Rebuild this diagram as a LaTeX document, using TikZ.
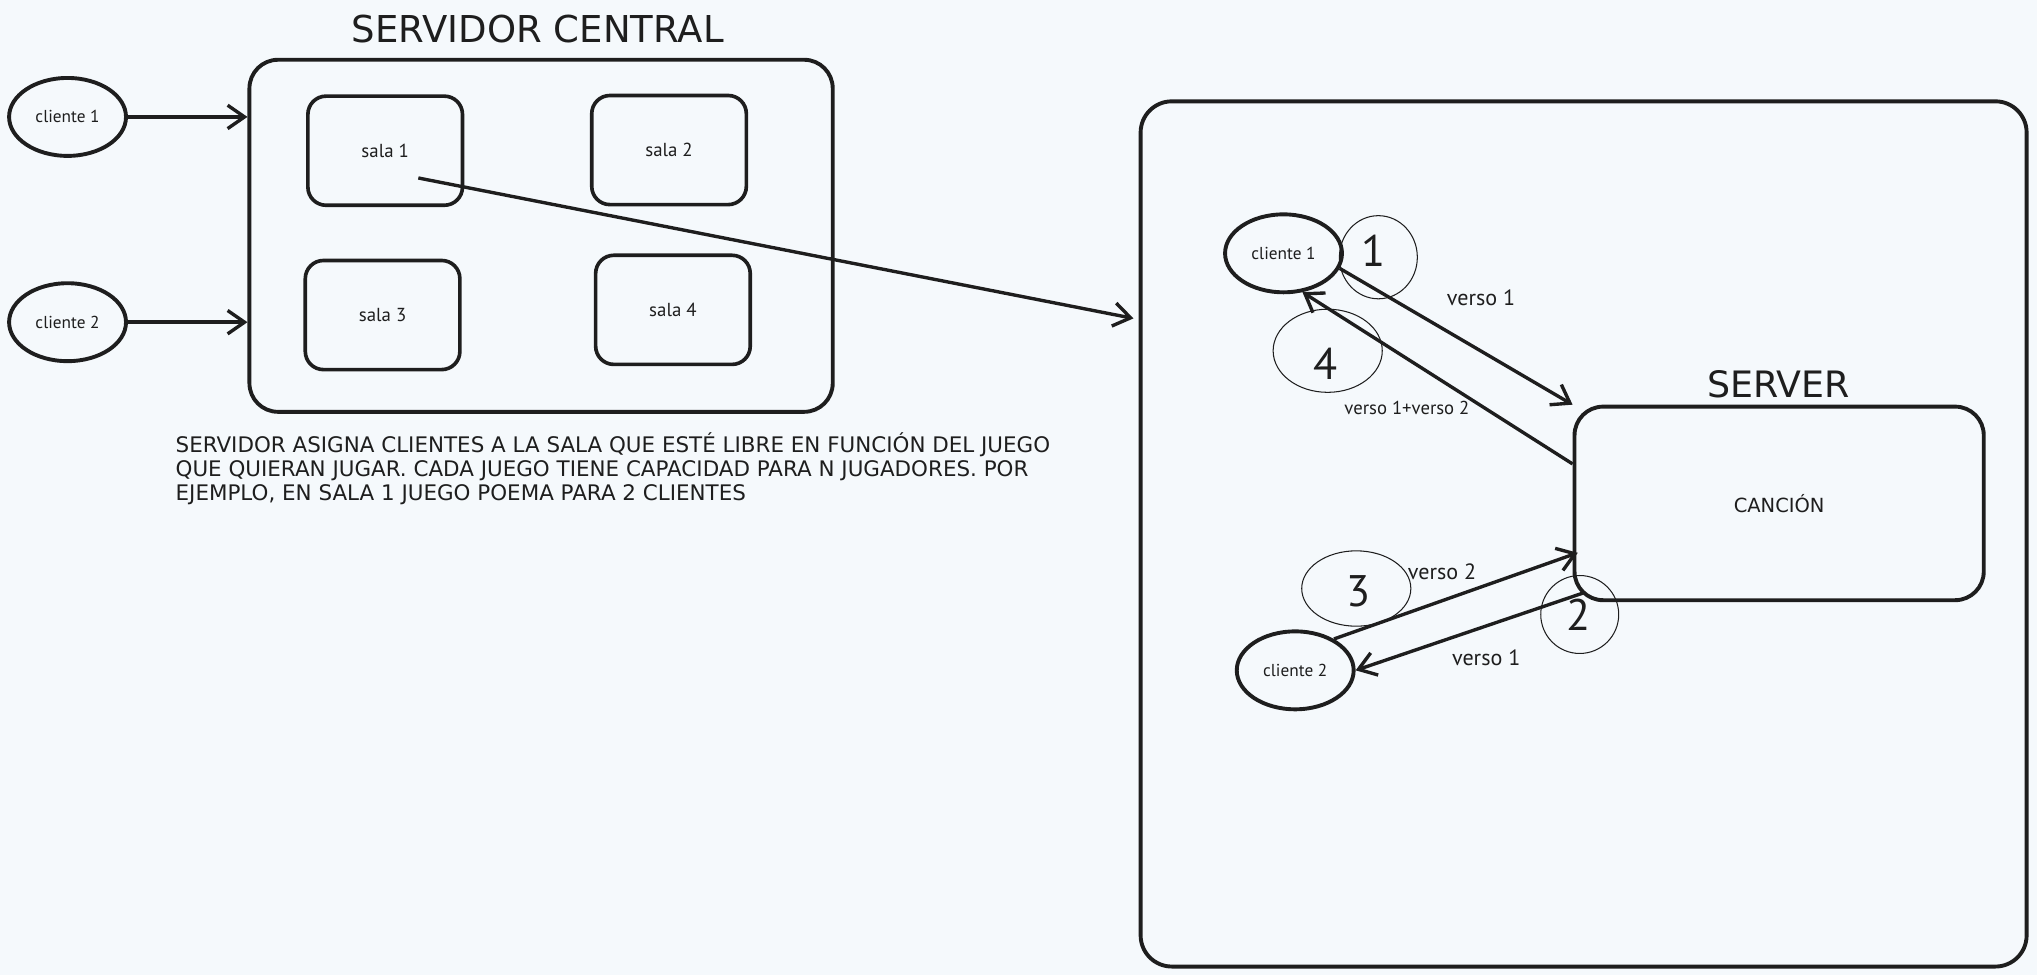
\documentclass[tikz,border=0pt]{standalone}
\usepackage{fontspec}
\setmainfont{PT Sans}
\newfontfamily\ancha{DejaVu Sans}
\usetikzlibrary{arrows.meta,shapes.geometric,calc}
\definecolor{fondo}{HTML}{F5F9FC}
\definecolor{tinta}{HTML}{1E1E1E}

\begin{document}
\begin{tikzpicture}
  [
    x=1pt, y=-1pt,
    color=tinta,
    caja/.style={draw, line width=3pt, rounded corners=22pt, inner sep=0pt},
    sala/.style={draw, line width=2.8pt, rounded corners=14pt,
      minimum width=119pt, minimum height=84pt,
      font=\fontsize{14.5}{16}\selectfont},
    cli/.style={draw, ellipse, line width=3pt, minimum width=90pt,
      minimum height=60pt, inner sep=0pt,
      font=\fontsize{13.3}{15}\selectfont},
    flecha/.style={line width=2.6pt, -{Straight Barb[length=13pt,width=18pt]}},
    num/.style={draw, ellipse, line width=0.8pt, inner sep=0pt},
    cifra/.style={font=\fontsize{34}{36}\selectfont},
    etq/.style={font=\fontsize{17}{19}\selectfont}
  ]
  \fill [fondo] (0,0) rectangle (1568,750.5);
  \useasboundingbox (0,0) rectangle (1568,750.5);

  % servidor central
  \node [font=\ancha\fontsize{28.5}{30}\selectfont] (T1) at (414,22) {SERVIDOR CENTRAL};
  \node [caja, minimum width=449pt, minimum height=271pt] (SC) at (416.5,181.5) {};
  \node [sala] (S1) at (296.5,116) {sala 1};
  \node [sala] (S2) at (515,115.5) {sala 2};
  \node [sala] (S3) at (294.5,242.5) {sala 3};
  \node [sala] (S4) at (518,238.5) {sala 4};
  \node [cli] (C1) at (52,90) {cliente 1};
  \node [cli] (C2) at (52,248) {cliente 2};
  \draw [flecha] (C1.east) -- (C1.east -| SC.west);
  \draw [flecha] (C2.east) -- (C2.east -| SC.west);
  \node [anchor=north west, align=left, inner sep=0pt,
    font=\ancha\fontsize{16.5}{18.5}\selectfont] (D1) at (135,333)
    {SERVIDOR ASIGNA CLIENTES A LA SALA QUE ESTÉ LIBRE EN FUNCIÓN DEL JUEGO\\
     QUE QUIERAN JUGAR. CADA JUEGO TIENE CAPACIDAD PARA N JUGADORES. POR\\
     EJEMPLO, EN SALA 1 JUEGO POEMA PARA 2 CLIENTES};

  % server
  \node [caja, rounded corners=24pt, minimum width=682pt, minimum height=666pt] (BX) at (1219,411) {};
  \coordinate (A1) at ($(S1.center)+(25.5,21)$);
  \coordinate (A2) at ($(BX.north west)!0.252!(BX.south west)+(-4,0)$);
  \draw [flecha] (A1) -- (A2);
  \node [font=\ancha\fontsize{28}{30}\selectfont] (T2) at (1369,296) {SERVER};
  \node [caja, minimum width=315pt, minimum height=149pt,
    font=\ancha\fontsize{15}{17}\selectfont] (CA) at (1369.5,387.5) {CANCIÓN};
  \node [cli] (R1) at (988,195) {cliente 1};
  \node [cli] (R2) at (997,516) {cliente 2};

  \draw [flecha] (R1.-15) -- (CA.north west);
  \draw [flecha] ($(CA.north west)!0.3!(CA.south west)$) -- (R1.-64);
  \draw [flecha] (R2.39) -- ($(CA.north west)!0.75!(CA.south west)+(4,0)$);
  \draw [flecha] ($(CA.south west)+(8,-7)$) -- (R2.east);

  \node [etq] (V1) at (1140,229) {verso 1};
  \node [font=\fontsize{14.4}{16}\selectfont] (V2) at (1083,314) {verso 1+verso 2};
  \node [etq] (V3) at (1110,440) {verso 2};
  \node [etq] (V4) at (1144,506) {verso 1};

  % pasos
  \node [num, minimum width=60pt, minimum height=64pt] (N1) at (1061,198) {};
  \node [num, minimum width=84pt, minimum height=64pt] (N4) at (1022,270) {};
  \node [num, minimum width=84pt, minimum height=58pt] (N3) at (1044,453) {};
  \node [num, minimum width=60pt, minimum height=60pt] (N2) at (1216,473) {};
  \node [cifra] at (1057,193) {1};
  \node [cifra] at (1020,280) {4};
  \node [cifra] at (1046,455) {3};
  \node [cifra] at (1215,473) {2};
\end{tikzpicture}
\end{document}
